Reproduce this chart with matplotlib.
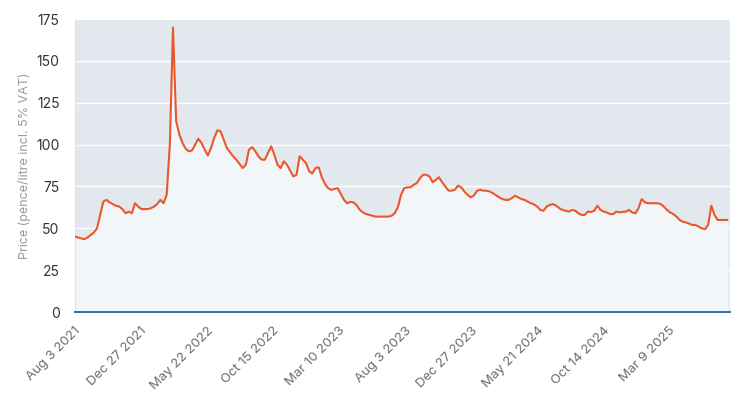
import matplotlib
matplotlib.use("Agg")
import matplotlib.pyplot as plt
import pandas as pd

# weekly prices from Aug 3 2021 (pence/litre incl. 5% VAT)
start_date = "2021-08-03"
prices = [
    45, 44.5, 44, 43.5, 44.5, 46, 47.5, 50, 58, 66,
    67, 65.5, 64.5, 63.5, 63, 61.5, 59, 60, 59, 65,
    63, 61.5, 61.5, 61.5, 62, 63, 64.5, 67, 65, 70,
    100, 170, 114, 106, 101, 97.5, 96, 96.5, 100, 103.5,
    101, 97, 93.5, 98, 104, 108.5, 108, 103, 98, 95.5,
    93, 91, 88.5, 86, 88, 97, 98.5, 96, 93, 91,
    91, 95, 99, 94, 88, 86, 90, 88, 84.5, 81,
    82, 93, 91, 89, 84, 82.8, 86, 86.5, 80.5, 76.5,
    74, 73, 73.5, 74, 70.5, 67, 65, 65.8, 65.5, 63.8,
    61, 59.5, 58.5, 58, 57.5, 57, 57, 57, 57, 57,
    57.5, 59, 62.5, 70, 74, 74.5, 74.5, 76, 77, 80,
    82, 82, 81, 77.5, 79, 80.5, 77.5, 75, 72.5, 72.5,
    73, 75.5, 74.5, 72, 70, 68.5, 69.5, 72.5, 73, 72.5,
    72.5, 72, 71, 69.8, 68.5, 67.5, 67, 67, 68, 69.5,
    68.5, 67.5, 67, 66, 65, 64.3, 63, 61, 60.5, 63,
    64, 64.5, 63.5, 62, 61, 60.5, 60, 61, 60.5, 59,
    58, 58, 60, 59.8, 60.5, 63.5, 61, 60, 59.5, 58.5,
    58.5, 60, 59.5, 59.8, 60, 61, 59.5, 59, 62, 67.5,
    65.5, 65, 65, 65, 65, 64.5, 63, 61, 59.5, 58.5,
    57, 55, 54, 53.5, 52.8, 52, 52, 51, 50, 49.5,
    52, 63.5, 58, 55, 55, 55, 55,
]
tick_labels = ["Aug 3 2021", "Dec 27 2021", "May 22 2022", "Oct 15 2022",
               "Mar 10 2023", "Aug 3 2023", "Dec 27 2023", "May 21 2024",
               "Oct 14 2024", "Mar 9 2025"]
yticks = [0, 25, 50, 75, 100, 125, 150, 175]

dates = pd.date_range(start_date, periods=len(prices), freq="7D")
tick_dates = pd.date_range(start_date, periods=len(tick_labels), freq="146D")

plt.rcParams["font.family"] = ["Inter", "DejaVu Sans"]

fig = plt.figure(figsize=(7.41, 3.98), dpi=100)
ax = fig.add_axes([0.101, 0.216, 0.884, 0.736])
ax.set_facecolor("#e3e8ef")

ax.fill_between(dates, prices, 0, color="#f3f6f8", zorder=1)
ax.plot(dates, prices, color="#e8582a", linewidth=1.5, zorder=3)

ax.set_ylim(0, 175)
ax.set_yticks(yticks)
ax.set_xlim(pd.Timestamp(start_date), pd.Timestamp(start_date) + pd.Timedelta(days=1448))
ax.set_xticks(tick_dates)
ax.set_xticklabels(tick_labels, rotation=45, ha="right", va="top",
                   rotation_mode="anchor", color="#6b6b6b", fontsize=9.5)

# grid sits under the filled area, like the reference
ax.set_axisbelow(True)
ax.grid(axis="y", color="white", linewidth=1)
ax.tick_params(axis="both", length=0)
ax.tick_params(axis="y", pad=11, labelsize=10, labelcolor="#333333")
ax.tick_params(axis="x", pad=9)

for side in ["top", "right"]:
    ax.spines[side].set_visible(False)
ax.spines["left"].set_color("#dde3ea")
ax.spines["bottom"].set_color("#2a6fab")
ax.spines["bottom"].set_linewidth(1.4)
ax.spines["bottom"].set_zorder(4)

ax.set_ylabel("Price (pence/litre incl. 5% VAT)", color="#9a9a9a", fontsize=9, labelpad=4)

fig.savefig("out.png", dpi=100)
